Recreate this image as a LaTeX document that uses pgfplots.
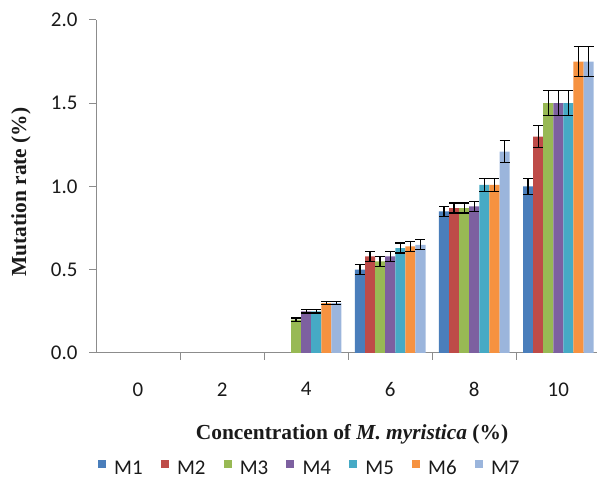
\documentclass[border=0pt]{standalone}
\usepackage{pgfplots}
\pgfplotsset{compat=1.18}
\usepackage{fontspec}
\setmainfont{Liberation Serif}
\newfontfamily\tickfont{Carlito}
\definecolor{c1}{HTML}{4A7EBB}
\definecolor{c2}{HTML}{BE4B48}
\definecolor{c3}{HTML}{98B954}
\definecolor{c4}{HTML}{7D60A0}
\definecolor{c5}{HTML}{46AAC5}
\definecolor{c6}{HTML}{F69240}
\definecolor{c7}{HTML}{9BB5DC}
\definecolor{axgray}{HTML}{8C8C8C}
\definecolor{txt}{HTML}{1A1A1A}
\begin{document}
\begin{tikzpicture}[x=1bp,y=1bp]
\path[use as bounding box] (0,0) rectangle (597,479);
\begin{axis}[
  at={(96bp,126bp)}, anchor=south west,
  scale only axis, width=501bp, height=333bp,
  xmin=-0.5, xmax=5.46, ymin=0, ymax=2,
  axis x line*=bottom, axis y line*=left,
  axis line style={axgray, line width=1bp},
  ybar=0pt, bar width=0.12,
  ytick={0,0.5,1,1.5,2},
  yticklabel style={/pgf/number format/fixed,/pgf/number format/fixed zerofill,/pgf/number format/precision=1, font=\tickfont\fontsize{21}{23}\selectfont, text=txt, xshift=-8bp},
  /pgf/number format/assume math mode=true,
  xtick={0,1,2,3,4,5}, xticklabels={0,2,4,6,8,10},
  xticklabel style={font=\tickfont\fontsize{21}{23}\selectfont, text=txt, yshift=-19bp},
  xtick style={draw=none},
  ytick style={axgray, line width=1bp},
  tick align=outside, major tick length=7bp,
  extra x ticks={0.5,1.5,2.5,3.5,4.5}, extra x tick labels={},
  extra x tick style={xtick style={draw=axgray, line width=1bp}},
  every axis plot/.append style={draw=none,
    /pgfplots/error bars/y dir=both, /pgfplots/error bars/y explicit,
    /pgfplots/error bars/error bar style={black, line width=1.3bp},
    /pgfplots/error bars/error mark options={rotate=90, mark size=5bp, black, line width=1.3bp}},
]
\addplot[fill=c1] coordinates {(3,0.50)+-(0,0.03) (4,0.85)+-(0,0.03) (5,1.00)+-(0,0.05)};
\addplot[fill=c2] coordinates {(3,0.58)+-(0,0.03) (4,0.87)+-(0,0.03) (5,1.30)+-(0,0.065)};
\addplot[fill=c3] coordinates {(2,0.20)+-(0,0.01) (3,0.55)+-(0,0.03) (4,0.87)+-(0,0.03) (5,1.50)+-(0,0.075)};
\addplot[fill=c4] coordinates {(2,0.25)+-(0,0.01) (3,0.58)+-(0,0.03) (4,0.88)+-(0,0.03) (5,1.50)+-(0,0.075)};
\addplot[fill=c5] coordinates {(2,0.25)+-(0,0.01) (3,0.63)+-(0,0.03) (4,1.01)+-(0,0.04) (5,1.50)+-(0,0.075)};
\addplot[fill=c6] coordinates {(2,0.30)+-(0,0.01) (3,0.64)+-(0,0.03) (4,1.01)+-(0,0.04) (5,1.75)+-(0,0.09)};
\addplot[fill=c7] coordinates {(2,0.30)+-(0,0.01) (3,0.65)+-(0,0.03) (4,1.21)+-(0,0.065) (5,1.75)+-(0,0.09)};
\end{axis}
\node[rotate=90, font=\bfseries\fontsize{21.5}{23}\selectfont, text=txt] at (21,287) {Mutation rate (\%)};
\node[font=\bfseries\fontsize{21.5}{23}\selectfont, text=txt] at (352,45) {Concentration of \textit{M. myristica} (\%)};
\foreach \c/\l [count=\i from 0] in {c1/M1,c2/M2,c3/M3,c4/M4,c5/M5,c6/M6,c7/M7} {
  \fill[\c] (98+\i*62.8,11) rectangle ++(8,8);
  \node[anchor=base west, font=\tickfont\fontsize{21}{23}\selectfont, text=txt, inner sep=0pt] at (114+\i*62.8,4) {\l};
}
\end{tikzpicture}
\end{document}
